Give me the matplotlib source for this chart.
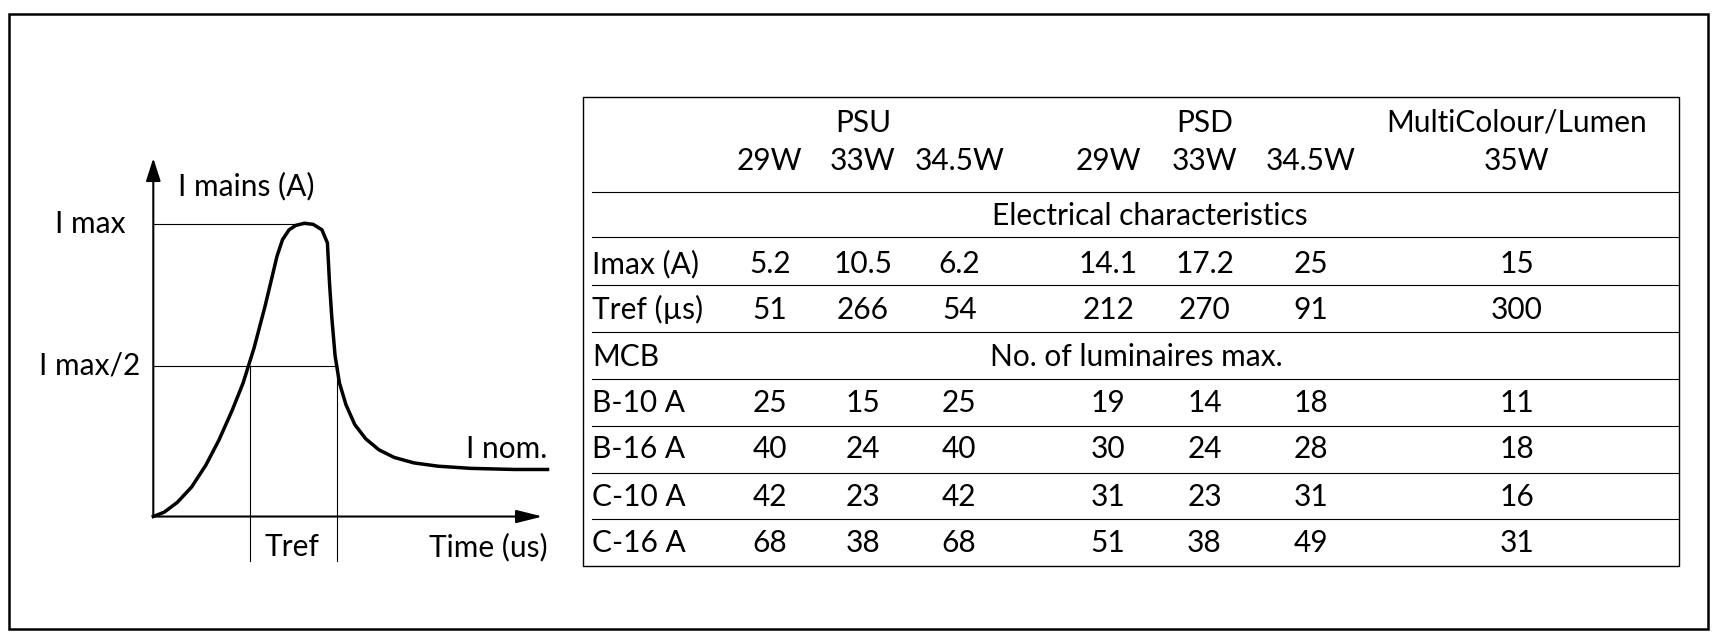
import matplotlib
matplotlib.use("Agg")
import matplotlib.pyplot as plt

plt.rcParams['font.family'] = ['Lato', 'DejaVu Sans']

groups = ["PSU", "PSD", "MultiColour/Lumen"]
watts = ["29W", "33W", "34.5W", "29W", "33W", "34.5W", "35W"]
section1 = "Electrical characteristics"
section2 = "No. of luminaires max."
elec_labels = ["Imax (A)", "Tref (µs)"]
elec_values = [["5.2", "10.5", "6.2", "14.1", "17.2", "25", "15"],
               ["51", "266", "54", "212", "270", "91", "300"]]
mcb_labels = ["B-10 A", "B-16 A", "C-10 A", "C-16 A"]
mcb_values = [[25, 15, 25, 19, 14, 18, 11],
              [40, 24, 40, 30, 24, 28, 18],
              [42, 23, 42, 31, 23, 31, 16],
              [68, 38, 68, 51, 38, 49, 31]]
# inrush curve sample points (x, y in drawing units)
curve_x = [140, 150, 162, 175, 188, 200, 212, 222, 232, 242, 248, 253, 258, 264, 270, 278, 286, 294, 299, 301, 303, 306, 310, 316, 324, 334, 346, 360, 378, 400, 430, 470, 500]
curve_y = [472, 468, 459, 445, 425, 402, 375, 350, 318, 280, 255, 234, 219, 210, 206, 204, 205, 210, 222, 260, 290, 325, 350, 370, 388, 401, 411, 418, 423, 426, 428, 429, 429]

fig = plt.figure(figsize=(17.17, 6.38), dpi=100)
ax = fig.add_axes([0, 0, 1, 1])
ax.set_xlim(0, 1568)
ax.set_ylim(583, 0)
ax.axis('off')
fs = 21.5
k = 'black'

ax.add_patch(plt.Rectangle((8, 13), 1552, 562, fill=False, lw=1.8, ec=k))

# left diagram
ax.annotate("", xy=(140, 142), xytext=(140, 474), arrowprops=dict(arrowstyle='-|>,head_length=1.4,head_width=0.45', color=k, lw=1.5))
ax.annotate("", xy=(498, 472), xytext=(138, 472), arrowprops=dict(arrowstyle='-|>,head_length=1.6,head_width=0.4', color=k, lw=1.5))
ax.plot(curve_x, curve_y, color=k, lw=2.5)
ax.plot([140, 282], [205, 205], color=k, lw=0.8)
ax.plot([140, 308], [334, 334], color=k, lw=0.8)
ax.plot([228, 228], [334, 513], color=k, lw=0.8)
ax.plot([308, 308], [334, 513], color=k, lw=0.8)
ax.text(163, 170, "I mains (A)", fontsize=fs, va='center')
ax.text(115, 205, "I max", fontsize=fs, va='center', ha='right')
ax.text(128, 334, "I max/2", fontsize=fs, va='center', ha='right')
ax.text(500, 410, "I nom.", fontsize=fs, va='center', ha='right')
ax.text(267, 500, "Tref", fontsize=fs, va='center', ha='center')
ax.text(500, 500, "Time (us)", fontsize=fs, va='center', ha='right')

# table
ax.add_patch(plt.Rectangle((532, 89), 1001, 428, fill=False, lw=1.0, ec=k))
cols = [703, 788, 876, 1012, 1100, 1197, 1385]
for y in [175, 217, 260, 303, 346, 389, 432, 474]:
    ax.plot([541, 1533], [y, y], color=k, lw=0.8)
for g, x in zip(groups, [788, 1100, 1385]):
    ax.text(x, 112, g, fontsize=fs, ha='center', va='center')
for w, x in zip(watts, cols):
    ax.text(x, 147, w, fontsize=fs, ha='center', va='center')
ax.text(1050, 197, section1, fontsize=fs, ha='center', va='center')
rows_y = [241, 283]
for lab, vals, y in zip(elec_labels, elec_values, rows_y):
    ax.text(541, y, lab, fontsize=fs, va='center')
    for v, x in zip(vals, cols):
        ax.text(x, y, v, fontsize=fs, ha='center', va='center')
ax.text(541, 326, "MCB", fontsize=fs, va='center')
ax.text(1038, 326, section2, fontsize=fs, ha='center', va='center')
for lab, vals, y in zip(mcb_labels, mcb_values, [368, 410, 454, 496]):
    ax.text(541, y, lab, fontsize=fs, va='center')
    for v, x in zip(vals, cols):
        ax.text(x, y, str(v), fontsize=fs, ha='center', va='center')

fig.savefig("out.png", dpi=100, facecolor='white')
